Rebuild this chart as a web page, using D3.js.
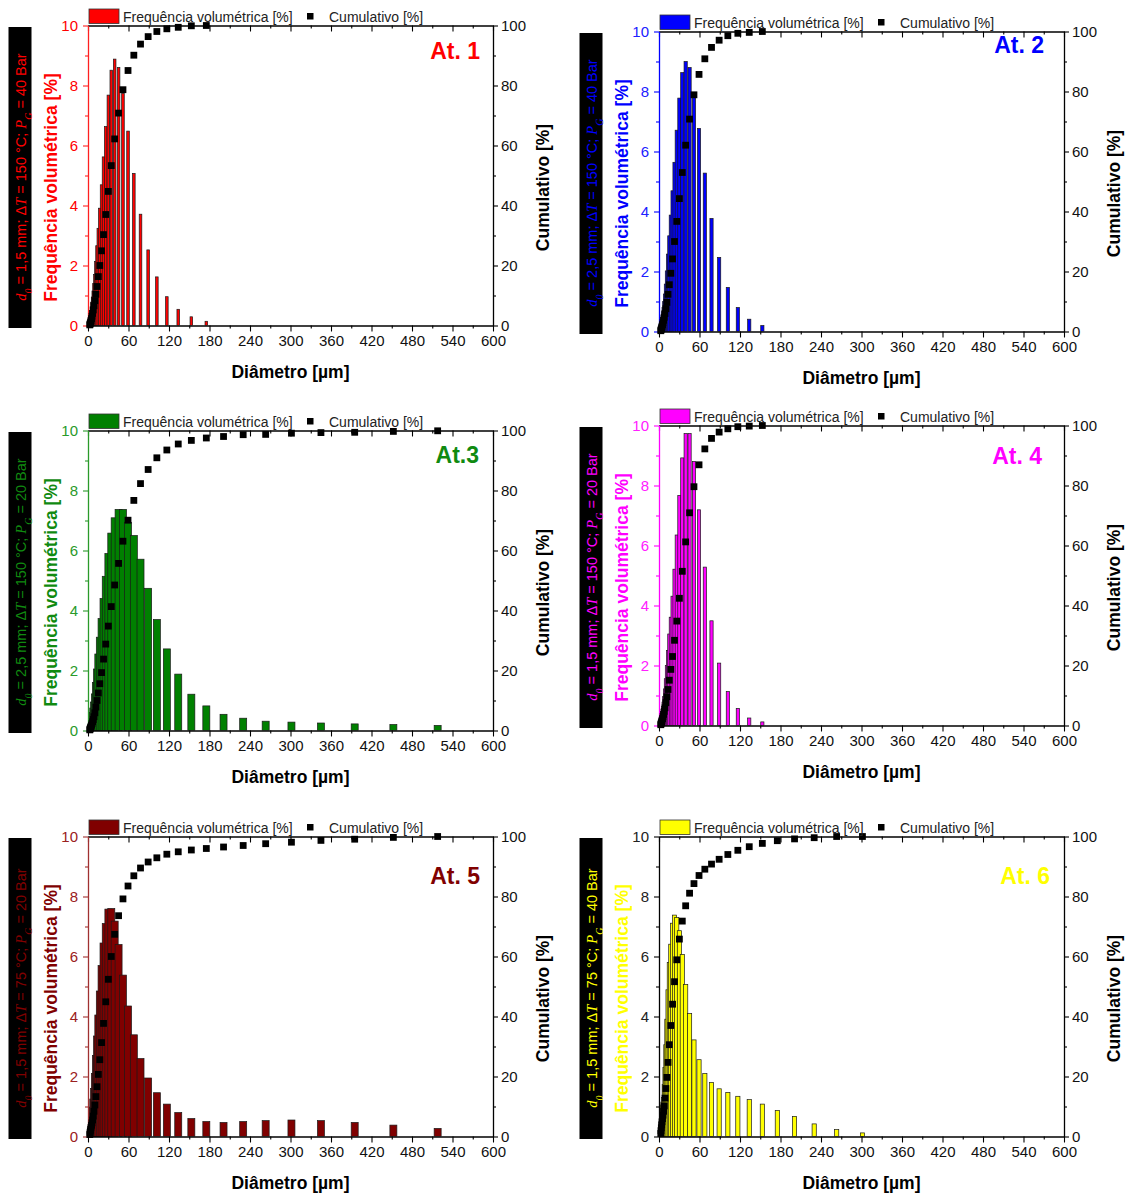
<!DOCTYPE html>
<html lang="pt">
<head>
<meta charset="UTF-8" />
<title>Distribuição de diâmetros - At. 1 a 6</title>
<script src="https://d3js.org/d3.v7.min.js"></script>
<style>
  body { margin: 0; background: #fff; }
  text { font-family: "Liberation Sans", Arial, sans-serif; }
</style>
</head>
<body>
<script>
// bin centres [µm], shared by all six atomizations
var diam = [2.64, 3.02, 3.46, 3.96, 4.5, 5.2, 5.9, 6.8, 7.8, 8.9, 10.2, 11.7, 13.4, 15.3, 17.5, 20.1,
  23.0, 26.3, 30.2, 34.5, 39.5, 45.3, 51.8, 59.3, 67.9, 77.8, 89.1, 102.0, 116.8, 133.7, 153.1, 175.3,
  200.8, 229.9, 263.2, 301.4, 345.1, 395.1, 452.4, 518.0];

// Frequência volumétrica [%] and Cumulativo [%] per bin
var freq1 = [0.2, 0.26, 0.32, 0.4, 0.5, 0.62, 0.78, 0.95, 1.15, 1.4, 1.7, 2.13, 2.66, 3.24, 3.91, 4.69,
  5.62, 6.63, 7.68, 8.51, 8.88, 8.6, 7.74, 6.48, 5.07, 3.71, 2.52, 1.62, 0.96, 0.54, 0.29, 0.14];
var cum1 = [0.2, 0.46, 0.78, 1.18, 1.68, 2.3, 3.08, 4.03, 5.18, 6.58, 8.28, 10.4, 13, 16.3, 20, 24.9,
  30.3, 37, 44.7, 53.3, 62.2, 70.8, 78.6, 85, 90.1, 93.8, 96.3, 98, 98.9, 99.4, 99.9, 100];

var freq2 = [0.26, 0.3, 0.34, 0.39, 0.46, 0.55, 0.66, 0.8, 1.0, 1.25, 1.58, 2.02, 2.58, 3.19, 3.88, 4.69,
  5.64, 6.71, 7.78, 8.63, 9.0, 8.8, 7.9, 6.77, 5.28, 3.77, 2.47, 1.47, 0.8, 0.41, 0.2];
var cum2 = [0.26, 0.56, 0.9, 1.3, 1.75, 2.3, 2.95, 3.75, 4.75, 6.0, 7.6, 9.7, 12.4, 15.6, 19.4, 24.2,
  30, 36.7, 44.3, 53, 62.1, 70.8, 78.9, 85.7, 90.9, 94.7, 97.1, 98.6, 99.4, 99.7, 100];

var freq3 = [0.21, 0.24, 0.27, 0.31, 0.36, 0.42, 0.5, 0.6, 0.75, 0.95, 1.22, 1.6, 2.05, 2.55, 3.11, 3.73,
  4.4, 5.14, 5.9, 6.58, 7.09, 7.37, 7.37, 6.94, 6.5, 5.71, 4.74, 3.7, 2.72, 1.88, 1.21, 0.82,
  0.54, 0.41, 0.31, 0.28, 0.25, 0.22, 0.2, 0.17];
var cum3 = [0.21, 0.45, 0.72, 1.03, 1.39, 1.81, 2.31, 2.91, 3.66, 4.6, 5.9, 7.8, 10, 12.5, 15.6, 19.3,
  23.8, 28.8, 34.8, 41.3, 48.5, 55.7, 63.1, 70.1, 76.7, 82.3, 87, 90.9, 93.5, 95.5, 96.7, 97.5,
  98, 98.6, 98.7, 99.1, 99.3, 99.4, 99.7, 99.9];

var freq4 = [0.26, 0.3, 0.35, 0.4, 0.46, 0.54, 0.64, 0.78, 0.97, 1.22, 1.56, 2.0, 2.5, 3.05, 3.61, 4.31,
  5.21, 6.35, 7.67, 8.92, 9.73, 9.73, 8.8, 7.19, 5.28, 3.49, 2.08, 1.13, 0.57, 0.25, 0.12];
var cum4 = [0.26, 0.56, 0.9, 1.3, 1.76, 2.3, 2.95, 3.7, 4.7, 5.9, 7.6, 9.6, 12, 15.1, 18.7, 23,
  28.4, 34.8, 42.4, 51.4, 61.2, 70.9, 79.6, 86.9, 92.2, 95.7, 97.8, 98.9, 99.6, 99.8, 100];

var freq5 = [0.65, 0.6, 0.6, 0.6, 0.62, 0.7, 0.8, 0.98, 1.25, 1.6, 2.1, 2.7, 3.35, 4.05, 4.85, 5.7,
  6.45, 7.1, 7.58, 7.6, 7.18, 6.4, 5.38, 4.35, 3.39, 2.6, 1.95, 1.46, 1.08, 0.8, 0.6, 0.5,
  0.47, 0.5, 0.53, 0.55, 0.53, 0.47, 0.38, 0.27];
var cum5 = [0.65, 1.25, 1.85, 2.45, 3.05, 3.75, 4.55, 5.5, 6.8, 8.4, 10.5, 13.3, 16.6, 20.7, 25.6, 31.3,
  37.7, 44.9, 52.4, 60, 67.4, 73.6, 79.2, 83.5, 86.9, 89.5, 91.5, 92.9, 94.1, 94.9, 95.5, 96,
  96.5, 97, 97.6, 98.1, 98.7, 99.1, 99.7, 100];

var freq6 = [1.0, 0.95, 0.95, 1.0, 1.0, 1.05, 1.15, 1.3, 1.74, 2.3, 3.06, 3.91, 4.89, 5.8, 6.41, 7.11,
  7.38, 7.3, 6.86, 6.07, 5.07, 4.1, 3.22, 2.56, 2.1, 1.8, 1.59, 1.47, 1.34, 1.23, 1.08, 0.87,
  0.67, 0.42, 0.23, 0.12];
var cum6 = [1.0, 1.95, 2.9, 3.9, 4.9, 5.95, 7.1, 8.4, 10.2, 12.8, 16, 19.7, 24.7, 30.6, 37, 44.1,
  51.6, 58.9, 65.8, 71.8, 76.9, 81.1, 84.3, 87, 89.1, 90.8, 92.4, 94, 95.4, 96.6, 97.7, 98.6,
  99.2, 99.6, 100, 100];

// axis ticks
var xTicks = [0, 60, 120, 180, 240, 300, 360, 420, 480, 540, 600];
var freqTicks = [0, 2, 4, 6, 8, 10];
var cumTicks = [0, 20, 40, 60, 80, 100];

// conditions written in the black boxes
var d0Vals = ["1,5", "2,5", "2,5", "1,5", "1,5", "1,5"];
var dTVals = ["150", "150", "150", "150", "75", "75"];
var pGVals = ["40", "40", "20", "20", "20", "40"];
var names = ["At. 1", "At. 2", "At.3", "At. 4", "At. 5", "At. 6"];

var W = 405, H = 300;

var panels = [
  { freq: freq1, cum: cum1, x: 88, y: 25.5, color: "#ff0000", text: "#ff0000", axis: "#ff2020", tick: "#ff0000", barW: 2.6, lx: 13, ly: 33 },
  { freq: freq2, cum: cum2, x: 659, y: 31.5, color: "#0000ff", text: "#0000ff", axis: "#0000ff", tick: "#2020ff", barW: 3.2, lx: 20, ly: 21 },
  { freq: freq3, cum: cum3, x: 88, y: 430.5, color: "#008000", text: "#108a10", axis: "#2a9a2a", tick: "#2a9a2a", barW: 7, lx: 14, ly: 32 },
  { freq: freq4, cum: cum4, x: 659, y: 425.5, color: "#ff00ff", text: "#ff00ff", axis: "#ff00ff", tick: "#ff20ff", barW: 3.2, lx: 22, ly: 38 },
  { freq: freq5, cum: cum5, x: 88, y: 836.5, color: "#800000", text: "#800000", axis: "#a03030", tick: "#9a2020", barW: 7, lx: 13, ly: 47 },
  { freq: freq6, cum: cum6, x: 659, y: 836.5, color: "#ffff00", text: "#ffff00", axis: "#000000", tick: "#222222", barW: 4.2, lx: 14, ly: 47 }
];

var svg = d3.select("body").append("svg")
  .attr("width", 1129).attr("height", 1194)
  .style("background", "#fff");

var font = "Liberation Sans, Arial, sans-serif";

function styleAxis(sel, lineColor, textColor) {
  sel.attr("font-family", font).attr("font-size", 15);
  sel.select(".domain").attr("stroke", lineColor).attr("stroke-width", 1.3);
  sel.selectAll(".tick line").attr("stroke", lineColor).attr("stroke-width", 1.1);
  sel.selectAll(".tick text").attr("fill", textColor);
}

panels.forEach(function (p, k) {
  var x = d3.scaleLinear().domain([0, 600]).range([0, W]);
  var yL = d3.scaleLinear().domain([0, 10]).range([H, 0]);
  var yR = d3.scaleLinear().domain([0, 100]).range([H, 0]);

  var rows = diam.map(function (d, i) { return { d: d, f: p.freq[i], c: p.cum[i] }; });

  // black box with the conditions
  var box = svg.append("g").attr("transform", "translate(" + (p.x - 79.5) + "," + (p.y + 1.5) + ")");
  box.append("rect").attr("width", 23).attr("height", H + 1).attr("fill", "#000");
  var t = box.append("text")
    .attr("transform", "translate(17," + (H / 2) + ") rotate(-90)")
    .attr("text-anchor", "middle").attr("fill", p.text).attr("font-size", 14.5);
  t.append("tspan").attr("font-family", "Liberation Serif").attr("font-style", "italic").text("d");
  t.append("tspan").attr("font-family", "Liberation Serif").attr("font-style", "italic")
    .attr("font-size", 10).attr("baseline-shift", "sub").text("0");
  t.append("tspan").text(" = " + d0Vals[k] + " mm; \u0394");
  t.append("tspan").attr("font-family", "Liberation Serif").attr("font-style", "italic").text("T");
  t.append("tspan").text(" = " + dTVals[k] + " \u00b0C; ");
  t.append("tspan").attr("font-family", "Liberation Serif").attr("font-style", "italic").text("P");
  t.append("tspan").attr("font-family", "Liberation Serif").attr("font-style", "italic")
    .attr("font-size", 10).attr("baseline-shift", "sub").text("G");
  t.append("tspan").text(" = " + pGVals[k] + " Bar");

  var g = svg.append("g").attr("transform", "translate(" + p.x + "," + p.y + ")");

  g.append("clipPath").attr("id", "clip" + k)
    .append("rect").attr("width", W).attr("height", H);

  // bars
  g.append("g").attr("clip-path", "url(#clip" + k + ")")
    .selectAll("rect").data(rows.filter(function (r) { return r.f > 0; }))
    .enter().append("rect")
    .attr("x", function (r) { return x(r.d) - p.barW / 2; })
    .attr("width", p.barW)
    .attr("y", function (r) { return yL(r.f); })
    .attr("height", function (r) { return H - yL(r.f); })
    .attr("fill", p.color)
    .attr("stroke", "#1a1a1a")
    .attr("stroke-width", 0.7);

  // bottom axis
  var bx = g.append("g").attr("transform", "translate(0," + H + ")")
    .call(d3.axisBottom(x).tickValues(xTicks).tickSize(6).tickSizeOuter(0).tickPadding(4));
  styleAxis(bx, "#000", "#111");
  var bxm = g.append("g").attr("transform", "translate(0," + H + ")")
    .call(d3.axisBottom(x).tickValues(d3.range(30, 600, 60)).tickSize(3).tickFormat(""));
  styleAxis(bxm, "#000", "#111");
  bxm.select(".domain").remove();

  // top axis (ticks inside)
  var tx = g.append("g")
    .call(d3.axisTop(x).tickValues(xTicks).tickSize(-6).tickSizeOuter(0).tickFormat(""));
  styleAxis(tx, "#000", "#111");
  var txm = g.append("g")
    .call(d3.axisTop(x).tickValues(d3.range(30, 600, 60)).tickSize(-3).tickFormat(""));
  styleAxis(txm, "#000", "#111");
  txm.select(".domain").remove();

  // right axis (cumulative)
  var ry = g.append("g").attr("transform", "translate(" + W + ",0)")
    .call(d3.axisRight(yR).tickValues(cumTicks).tickSize(5).tickSizeOuter(0).tickPadding(3));
  styleAxis(ry, "#000", "#111");
  var rym = g.append("g").attr("transform", "translate(" + W + ",0)")
    .call(d3.axisRight(yR).tickValues(d3.range(10, 100, 20)).tickSize(3).tickFormat(""));
  styleAxis(rym, "#000", "#111");
  rym.select(".domain").remove();

  // left axis (frequency)
  var ly = g.append("g")
    .call(d3.axisLeft(yL).tickValues(freqTicks).tickSize(5).tickSizeOuter(0).tickPadding(5));
  styleAxis(ly, p.axis, p.tick);
  var lym = g.append("g")
    .call(d3.axisLeft(yL).tickValues(d3.range(1, 10, 2)).tickSize(3).tickFormat(""));
  styleAxis(lym, p.axis, p.tick);
  lym.select(".domain").remove();

  // cumulative points
  g.append("g").selectAll("rect").data(rows.filter(function (r) { return r.c != null; }))
    .enter().append("rect")
    .attr("x", function (r) { return x(r.d) - 3.4; })
    .attr("y", function (r) { return yR(r.c) - 3.4; })
    .attr("width", 6.8).attr("height", 6.8)
    .attr("fill", "#000");

  // axis titles
  g.append("text")
    .attr("transform", "translate(-31," + (H / 2 + 12) + ") rotate(-90)")
    .attr("text-anchor", "middle").attr("font-weight", "bold").attr("font-size", 17.5)
    .attr("fill", p.text).text("Frequência volumétrica [%]");
  g.append("text")
    .attr("transform", "translate(" + (W + 56) + "," + (H / 2 + 12) + ") rotate(-90)")
    .attr("text-anchor", "middle").attr("font-weight", "bold").attr("font-size", 17.5)
    .attr("fill", "#000").text("Cumulativo [%]");
  g.append("text")
    .attr("x", W / 2).attr("y", H + 52)
    .attr("text-anchor", "middle").attr("font-weight", "bold").attr("font-size", 17.5)
    .attr("fill", "#000").text("Diâmetro [µm]");

  // panel label
  g.append("text")
    .attr("x", W - p.lx).attr("y", p.ly)
    .attr("text-anchor", "end").attr("font-weight", "bold").attr("font-size", 23)
    .attr("fill", p.text).text(names[k]);

  // legend above the plot
  g.append("rect").attr("x", 1).attr("y", -16.5).attr("width", 30).attr("height", 14.5)
    .attr("fill", p.color).attr("stroke", "#333").attr("stroke-width", 0.8);
  g.append("text").attr("x", 35).attr("y", -4).attr("font-size", 14).attr("fill", "#222")
    .text("Frequência volumétrica [%]");
  g.append("rect").attr("x", 219).attr("y", -12.5).attr("width", 6.5).attr("height", 6.5).attr("fill", "#000");
  g.append("text").attr("x", 241).attr("y", -4).attr("font-size", 14).attr("fill", "#222")
    .text("Cumulativo [%]");
});
</script>
</body>
</html>
